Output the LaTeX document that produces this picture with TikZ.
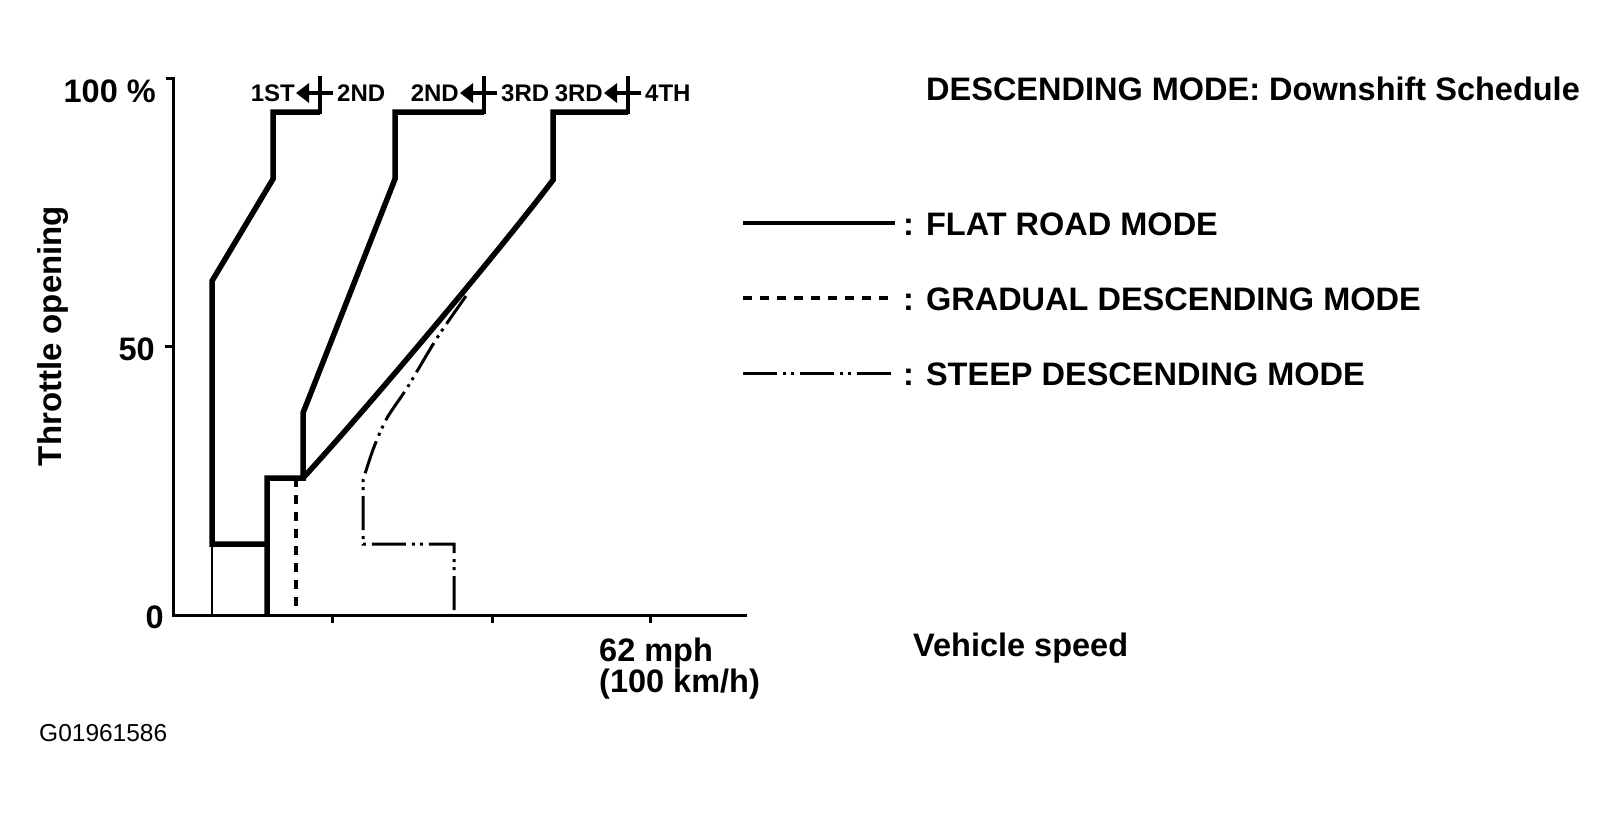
\documentclass[tikz,border=0pt]{standalone}
\usepackage{fontspec}
\setmainfont{Liberation Sans}
\usetikzlibrary{arrows.meta}
\begin{document}
\begin{tikzpicture}[x=1pt,y=-1pt,
  bigtxt/.style={font=\fontsize{32.5}{31}\selectfont\bfseries, inner sep=0pt},
  ylabtxt/.style={font=\fontsize{33}{33}\selectfont\bfseries, inner sep=0pt},
  geartxt/.style={font=\fontsize{24}{24}\selectfont\bfseries, inner sep=0pt},
  idtxt/.style={font=\fontsize{24.5}{24.5}\selectfont, inner sep=0pt},
  axln/.style={line width=3pt},
  flatln/.style={line width=5.5pt, line join=miter},
  thinln/.style={line width=2.5pt},
  gradln/.style={line width=3.5pt, dash pattern=on 9pt off 8pt},
  steepln/.style={line width=3pt, dash pattern=on 34pt off 6pt on 3pt off 5pt on 3pt off 6pt},
  crossln/.style={line width=4pt},
  shiftarr/.style={line width=4pt, -{Triangle[length=13pt,width=19pt]}}
]
\fill[white] (0,0) rectangle (1618,815);
\useasboundingbox (0,0) rectangle (1618,815);

% axes
\coordinate (ytop) at (173,78);
\coordinate (orig) at (173,615);
\coordinate (xend) at (747,615);
\draw[axln] (166,78) -- (ytop) -- (orig) -- (xend);
\draw[axln] (165,346) -- (173,346);
\foreach \xx in {332,492,650} \draw[axln] (\xx,615) -- (\xx,623);

% axis labels
\node[bigtxt, anchor=east] (l100) at (156,91) {100 \%};
\node[bigtxt, anchor=east] (l50) at (155,349) {50};
\node[bigtxt, anchor=east] (l0) at (164,617) {0};
\node[ylabtxt, rotate=90] (ylab) at (53,336) {Throttle opening};
\node[bigtxt, anchor=north west, align=left] (l62) at (599,638) {62 mph\\(100 km/h)};
\node[bigtxt, anchor=west] (xlab) at (913,648) {Vehicle speed};
\node[idtxt, anchor=west] (gid) at (39,733) {G01961586};
\node[bigtxt, anchor=west] (title) at (926,89) {DESCENDING MODE: Downshift Schedule};

% flat road mode lines
\draw[flatln] (320,112) -- (273,112) -- (273,179) -- (212,281) -- (212,544) -- (267,544) -- (267,615);
\draw[thinln] (212,544) -- (212,615);
\draw[flatln] (484,112) -- (395,112) -- (395,179) -- (303,413) -- (303,478) -- (267,478) -- (267,546);
\draw[flatln] (628,112) -- (553,112) -- (553,180) .. controls (500,250) and (370,405) .. (303,478);

% gradual descending
\draw[gradln] (296,478) -- (296,615);

% steep descending
\draw[steepln] plot[smooth] coordinates {(466,296) (437,338) (407,388) (387,418) (374,447) (363,480)} -- (363,544) -- (454,544) -- (454,615);

% shift markers
\foreach \cx in {320,484,628} {
  \draw[crossln] (\cx,76) -- (\cx,114);
  \draw[shiftarr] (\cx+13,93) -- (\cx-24,93);
}
\node[geartxt, anchor=east] (g1) at (295,93) {1ST};
\node[geartxt, anchor=west] (g2) at (337,93) {2ND};
\node[geartxt, anchor=east] (g3) at (459,93) {2ND};
\node[geartxt, anchor=west] (g4) at (501,93) {3RD};
\node[geartxt, anchor=east] (g5) at (603,93) {3RD};
\node[geartxt, anchor=west] (g6) at (645,93) {4TH};

% legend
\draw[line width=4pt] (743,223) -- (895,223);
\draw[gradln] (743,298) -- (895,298);
\draw[steepln] (743,373) -- (895,373);
\node[bigtxt, anchor=west] (leg1) at (903,224) {: FLAT ROAD MODE};
\node[bigtxt, anchor=west] (leg2) at (903,299) {: GRADUAL DESCENDING MODE};
\node[bigtxt, anchor=west] (leg3) at (903,374) {: STEEP DESCENDING MODE};
\end{tikzpicture}
\end{document}
